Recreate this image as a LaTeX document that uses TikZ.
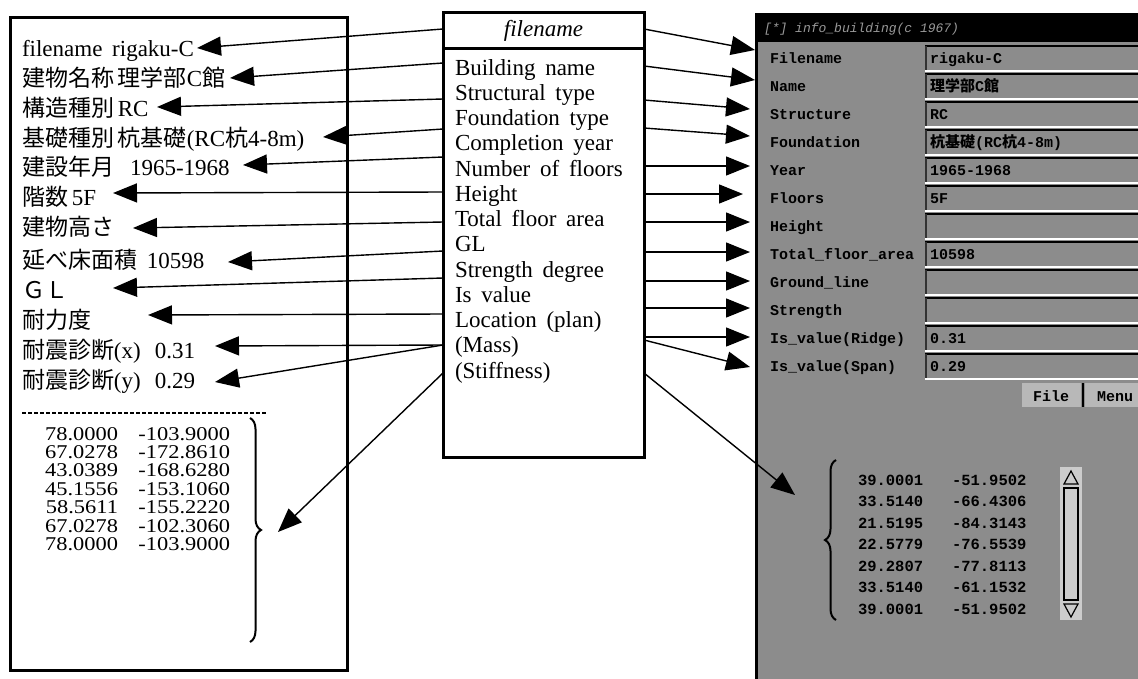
\documentclass[tikz,border=0pt]{standalone}
\usepackage{fontspec}
\setmainfont{Liberation Serif}[WordSpace=1.7]
\newfontfamily\jp{Noto Sans CJK JP}
\newfontfamily\mono{Liberation Mono}
\newfontfamily\widenum{Liberation Serif}[FakeStretch=1.15]
\usetikzlibrary{arrows.meta,decorations.pathreplacing}
\newcommand\J[1]{{\jp #1}}

\tikzset{
  every node/.style={inner sep=0pt, outer sep=0pt},
  txt/.style={anchor=base west, font=\fontsize{23}{25}\selectfont},
  num/.style={anchor=base east, font=\widenum\fontsize{19.5}{18}\selectfont},
  box/.style={draw, line width=3pt, anchor=north west},
  conn/.style={line width=1.4pt, -{Triangle[length=24pt,width=19pt]}},
  ptxt/.style={anchor=base west, font=\mono\bfseries\fontsize{15}{17}\selectfont},
  pnum/.style={anchor=base west, font=\mono\bfseries\fontsize{15.5}{17}\selectfont},
  panelbg/.style={fill=black!45},
  bracestyle/.style={decorate, decoration={brace, amplitude=11pt}, line width=2pt},
}

\begin{document}
\begin{tikzpicture}[x=1pt, y=-1pt]
\useasboundingbox (0,0) rectangle (1138,678);

% ---------- screen capture of the building record window ----------
\begin{scope}
  \clip (0,0) rectangle (1138,678);
  \fill[panelbg] (755,13) rectangle (1150,690);
  \fill[black] (755,13) rectangle (1150,42);
  \draw[black, line width=3pt] (756.5,13) -- (756.5,690);
  \node[anchor=base west, text=black!40, font=\mono\itshape\fontsize{13}{15}\selectfont]
    (wtitle) at (764,32) {[*] info\_building(c 1967)};
  % value fields (sunken look)
  \foreach \c in {58,86,114,142,170,198,226,254,282,310,338,366}{
    \draw[white, line width=1.6pt] (925,\c+13) -- (1150,\c+13);
    \draw[black, line width=2pt] (925,\c-12) -- (1150,\c-12);
    \draw[black!80, line width=2pt] (926,\c-12) -- (926,\c+12);
  }
  % buttons
  \fill[black!28] (1022,383) rectangle (1081,407);
  \fill[black!28] (1085,383) rectangle (1150,407);
  \draw[black, line width=2pt] (1083,383) -- (1083,407);
  \node[ptxt] (bfile) at (1033,401) {File};
  \node[ptxt] (bmenu) at (1097,401) {Menu};
  % scroll bar
  \fill[black!20] (1060,467) rectangle (1082,620);
  \draw[black, line width=1.2pt] (1064,488) rectangle (1078,600);
  \draw[black, line width=1.2pt] (1064,484) -- (1078,484) -- (1071,471) -- cycle;
  \draw[black, line width=1.2pt] (1064,604) -- (1078,604) -- (1071,617) -- cycle;
\end{scope}

% field labels and values
\node[ptxt] (p1)  at (770,63)  {Filename};
\node[ptxt] (p2)  at (770,91)  {Name};
\node[ptxt] (p3)  at (770,119) {Structure};
\node[ptxt] (p4)  at (770,147) {Foundation};
\node[ptxt] (p5)  at (770,175) {Year};
\node[ptxt] (p6)  at (770,203) {Floors};
\node[ptxt] (p7)  at (770,231) {Height};
\node[ptxt] (p8)  at (770,259) {Total\_floor\_area};
\node[ptxt] (p9)  at (770,287) {Ground\_line};
\node[ptxt] (p10) at (770,315) {Strength};
\node[ptxt] (p11) at (770,343) {Is\_value(Ridge)};
\node[ptxt] (p12) at (770,371) {Is\_value(Span)};

\node[ptxt] (v1)  at (930,63)  {rigaku-C};
\node[ptxt] (v2)  at (930,91)  {\J{理学部}C\J{館}};
\node[ptxt] (v3)  at (930,119) {RC};
\node[ptxt] (v4)  at (930,147) {\J{杭基礎}(RC\J{杭}4-8m)};
\node[ptxt] (v5)  at (930,175) {1965-1968};
\node[ptxt] (v6)  at (930,203) {5F};
\node[ptxt] (v8)  at (930,259) {10598};
\node[ptxt] (v11) at (930,343) {0.31};
\node[ptxt] (v12) at (930,371) {0.29};

% plan coordinates list
\draw[bracestyle] (836,620) -- (836,460);
\foreach \a/\b [count=\i] in {39.0001/-51.9502, 33.5140/-66.4306, 21.5195/-84.3143,
    22.5779/-76.5539, 29.2807/-77.8113, 33.5140/-61.1532, 39.0001/-51.9502}{
  \node[pnum] (pa\i) at (858,{480+21.5*(\i-1)+5}) {\a};
  \node[pnum] (pb\i) at (952,{480+21.5*(\i-1)+5}) {\b};
}

% ---------- left record sheet ----------
\node[box, minimum width=337pt, minimum height=653pt] (lbox) at (10,17) {};
\node[txt] (L1)  at (22,56)  {filename rigaku-C};
\node[txt] (L2)  at (22,86)  {\J{建物名称\,理学部}C\J{館}};
\node[txt] (L3)  at (22,116) {\J{構造種別}\,RC};
\node[txt] (L4)  at (22,146) {\J{基礎種別\,杭基礎}(RC\J{杭}4-8m)};
\node[txt] (L5)  at (22,175) {\J{建設年月}\hspace{16pt}1965-1968};
\node[txt] (L6)  at (22,205) {\J{階数}\,5F};
\node[txt] (L7)  at (22,235) {\J{建物高さ}};
\node[txt] (L8)  at (22,268) {\J{延べ床面積}\hspace{10pt}10598};
\node[txt] (L9)  at (22,298) {\J{ＧＬ}};
\node[txt] (L10) at (22,328) {\J{耐力度}};
\node[txt] (L11) at (22,358) {\J{耐震診断}(x)\hspace{14pt}0.31};
\node[txt] (L12) at (22,388) {\J{耐震診断}(y)\hspace{14pt}0.29};
\draw[line width=1.5pt, dash pattern=on 4pt off 2pt] (22,413) -- (267,413);
\foreach \a/\b [count=\i] in {78.0000/-103.9000, 67.0278/-172.8610, 43.0389/-168.6280,
    45.1556/-153.1060, 58.5611/-155.2220, 67.0278/-102.3060, 78.0000/-103.9000}{
  \node[num] (la\i) at (118,{433+18.4*(\i-1)+7}) {\a};
  \node[num] (lb\i) at (230,{433+18.4*(\i-1)+7}) {\b};
}
\draw[bracestyle] (250,418) -- (250,642);

% ---------- attribute table ----------
\node[box, minimum width=201pt, minimum height=445pt] (mid) at (443,12) {};
\draw[line width=3pt] (443,48) -- (644,48);
\node[anchor=base, font=\itshape\fontsize{23}{25}\selectfont] (M0) at (543.5,36) {filename};
\foreach \t [count=\i] in {Building name, Structural type, Foundation type, Completion year,
    Number of floors, Height, Total floor area, GL, Strength degree, Is value,
    Location (plan), (Mass), (Stiffness)}{
  \node[txt] (M\i) at (455,{67+25.25*(\i-1)+8}) {\t};
}

% ---------- connectors ----------
\foreach \y [count=\i] in {29,63,99,129,157,192,222,251,278,314,345,345,373}
  \coordinate (a\i) at (443,\y);
\foreach \x/\y [count=\i] in {197/48,230/78,157/107,323/137,243/165,113/193,133/228,
    228/262,113/288,148/315,215/346,215/382,278/532}
  \coordinate (t\i) at (\x,\y);
\foreach \y [count=\i] in {29,66,100,128,166,194,222,252,281,308,337,340,373}
  \coordinate (b\i) at (644,\y);
\foreach \x/\y [count=\i] in {755/50,755/80,750/109,750/136,750/166,743/194,750/222,
    750/252,750/281,750/308,750/337,750/367,795/495}
  \coordinate (u\i) at (\x,\y);
\foreach \i in {1,...,13}{
  \draw[conn] (a\i) -- (t\i);
  \draw[conn] (b\i) -- (u\i);
}
\end{tikzpicture}
\end{document}
